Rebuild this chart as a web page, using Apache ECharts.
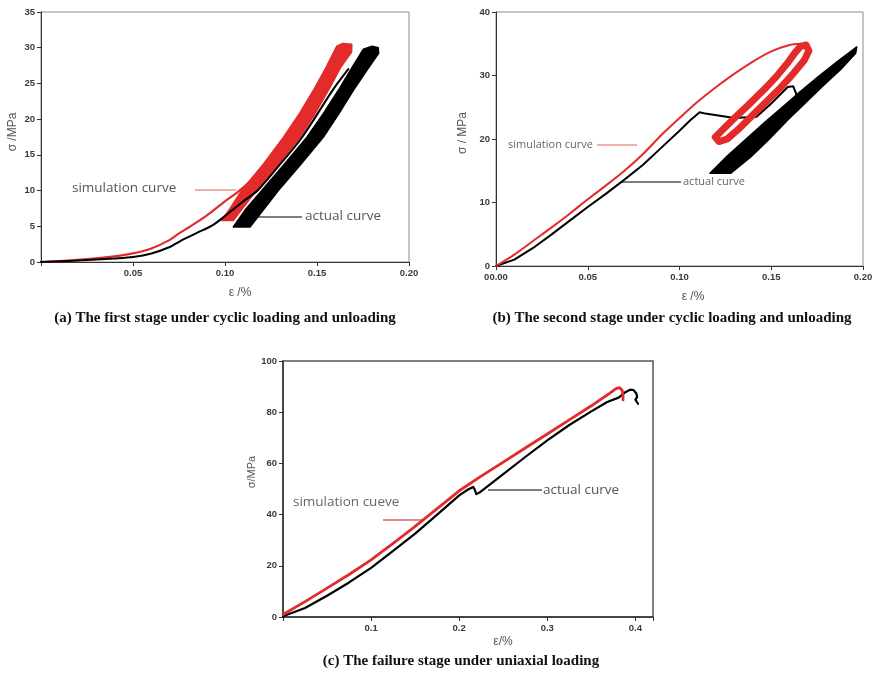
<!DOCTYPE html>
<html><head><meta charset="utf-8">
<script src="https://cdn.jsdelivr.net/npm/echarts@6/dist/echarts.min.js"></script>
<style>html,body{margin:0;padding:0;background:#fff}#c{width:878px;height:673px}</style>
</head><body><div id="c"></div><script>
// ---------- data (strain %, stress MPa) ----------
// (a) first stage
const aSimCurve = [[0,0],[0.02,0.3],[0.04,0.8],[0.05,1.2],[0.06,1.9],[0.07,3.1],[0.075,4.0],[0.08,4.8],[0.09,6.5],[0.1,8.5],[0.106,9.6],[0.112,10.9],[0.12,12.9],[0.128,15.0],[0.136,17.4]];
const aActCurve = [[0,0],[0.02,0.2],[0.04,0.5],[0.05,0.7],[0.06,1.2],[0.07,2.1],[0.0755,2.9],[0.085,4.1],[0.0936,5.2],[0.1027,7.0],[0.11,8.5],[0.1177,10.0],[0.13,13.7],[0.1417,17.4],[0.1589,24.2],[0.167,27.0]];
const aSimBand = [[0.0982,5.8],[0.103,7.6],[0.109,10.0],[0.1205,13.6],[0.1317,17.45],[0.1405,20.8],[0.1489,24.4],[0.155,27.3],[0.1607,30.2],[0.164,30.6],[0.1689,30.5],[0.1688,29.4],[0.163,27.3],[0.157,24.4],[0.149,20.8],[0.1408,17.45],[0.129,13.6],[0.117,10.0],[0.1045,5.8]];
const aActBand = [[0.1045,4.9],[0.111,7.3],[0.120,10.0],[0.132,13.6],[0.1444,17.45],[0.1535,20.8],[0.1625,24.4],[0.169,27.2],[0.1752,29.8],[0.180,30.2],[0.1833,30.0],[0.1835,29.2],[0.177,26.8],[0.1707,24.4],[0.162,20.8],[0.1534,17.45],[0.141,13.6],[0.129,10.0],[0.1136,4.9]];
// (b) second stage
const bSimCurve = [[0,0],[0.01,1.8],[0.02,3.9],[0.03,6.0],[0.04,8.2],[0.05,10.5],[0.06,12.7],[0.07,15.0],[0.08,17.6],[0.09,20.6],[0.1,23.3],[0.11,25.9],[0.12,28.2],[0.13,30.3],[0.14,32.2],[0.15,33.8],[0.16,34.8],[0.166,35.0]];
const bActCurve = [[0,0],[0.01,1.0],[0.02,2.8],[0.03,4.9],[0.04,7.1],[0.05,9.3],[0.06,11.4],[0.07,13.6],[0.08,15.9],[0.09,18.6],[0.1,21.3],[0.106,23.0],[0.111,24.2],[0.114,24.0],[0.13,23.3],[0.142,23.5],[0.150,25.6],[0.159,28.2],[0.162,28.3],[0.1635,27.2],[0.164,26.5]];
const bSimLoop = [[0.1195,20.3],[0.125,21.9],[0.131,23.6],[0.138,25.5],[0.1465,27.9],[0.153,29.9],[0.159,32.0],[0.163,33.6],[0.166,34.6],[0.169,34.8],[0.1705,33.9],[0.168,32.4],[0.162,30.3],[0.1545,27.9],[0.147,25.8],[0.139,23.5],[0.132,21.5],[0.126,20.0],[0.1215,19.6],[0.1195,20.3]];
const bActBand = [[0.1166,14.6],[0.126,17.3],[0.136,19.9],[0.146,22.5],[0.156,25.0],[0.166,27.5],[0.176,29.9],[0.186,32.2],[0.1966,34.5],[0.196,33.5],[0.188,31.0],[0.178,28.3],[0.169,25.8],[0.159,23.0],[0.149,20.0],[0.139,17.2],[0.128,14.6]];
// (c) failure stage
const cSimCurve = [[0,1],[0.025,6],[0.05,11.3],[0.075,16.6],[0.1,22.3],[0.125,28.8],[0.15,35.4],[0.175,42.3],[0.2,49.3],[0.225,55],[0.25,60.5],[0.275,66],[0.3,71.5],[0.325,77],[0.35,82.5],[0.37,87.2],[0.378,89.2],[0.382,89.6],[0.385,88.6],[0.386,86.5],[0.386,84.8]];
const cActCurve = [[0,0.3],[0.025,3.5],[0.05,8.3],[0.075,13.5],[0.1,19.2],[0.125,25.8],[0.15,32.6],[0.175,40.0],[0.2,47.5],[0.21,49.8],[0.216,50.8],[0.218,49.5],[0.2195,48.0],[0.223,48.6],[0.25,55.8],[0.275,62.5],[0.3,69.0],[0.325,75.0],[0.35,80.3],[0.368,84.0],[0.381,85.7],[0.389,87.9],[0.394,88.8],[0.398,88.6],[0.401,87.4],[0.402,85.9],[0.400,84.9],[0.403,83.3]];
// axes
const xMaxes = [0.2, 0.2, 0.42];
const xSteps = [0.05, 0.05, 0.1];
const yMaxes = [35, 40, 100];
const ySteps = [5, 10, 20];
const captions = ['(a) The first stage under cyclic loading and unloading','(b) The second stage under cyclic loading and unloading','(c) The failure stage under uniaxial loading'];

// ---------- chart ----------
const RED = '#e32b2b';
const chart = echarts.init(document.getElementById('c'), null, {renderer:'canvas'});
const grids = [
  {left:41, top:12, width:368, height:250},
  {left:496, top:12, width:367, height:254},
  {left:283, top:361, width:370, height:256}
].map((g,i)=>Object.assign(g,{show:true, borderColor: i===2?'#555':'#8c8c8c', borderWidth: i===2?1.5:1, backgroundColor:'transparent'}));

const xFmt = [
  v => Math.abs(v) < 1e-9 ? '' : v.toFixed(2),
  v => Math.abs(v) < 1e-9 ? '00.00' : v.toFixed(2),
  v => (Math.abs(v) < 1e-9 || v > 0.405) ? '' : v.toFixed(1)
];
const axisCol = '#333';
const lblStyle = {fontSize:9.5, fontWeight:'bold', color:'#3a3a3a', fontFamily:'Liberation Sans, Arial'};
const xAxes = [0,1,2].map(i => ({
  type:'value', gridIndex:i, min:0, max:xMaxes[i], interval:xSteps[i],
  axisLine:{show:true, onZero:false, lineStyle:{color:axisCol, width: i===2?1.5:1}},
  axisTick:{show:true, length:4, lineStyle:{color:axisCol}},
  splitLine:{show:false},
  axisLabel:Object.assign({margin:6, formatter:xFmt[i], showMaxLabel:true}, lblStyle)
}));
const yAxes = [0,1,2].map(i => ({
  type:'value', gridIndex:i, min:0, max:yMaxes[i], interval:ySteps[i],
  axisLine:{show:true, onZero:false, lineStyle:{color:axisCol, width: i===2?1.5:1}},
  axisTick:{show:true, length:4, lineStyle:{color:axisCol}},
  splitLine:{show:false},
  axisLabel:Object.assign({margin:6}, lblStyle)
}));

function lineS(idx, data, color, w, extra) {
  return Object.assign({type:'line', xAxisIndex:idx, yAxisIndex:idx, data:data, showSymbol:false, symbol:'none',
    smooth:false, lineStyle:{color:color, width:w, join:'round', cap:'round'}, silent:true, animation:false}, extra||{});
}
function polyS(idx, data, color) {
  return {type:'custom', xAxisIndex:idx, yAxisIndex:idx, data:data, encode:{x:0,y:1}, silent:true, animation:false,
    renderItem:function(params, api){
      if (params.dataIndex !== 0) return null;
      const pts = data.map(p => api.coord(p));
      return {type:'polygon', shape:{points:pts}, style:{fill:color, stroke:color, lineWidth:1.5, lineJoin:'round'}};
    }};
}

const series = [
  lineS(0, aSimCurve, RED, 2.2, {smooth:0.3}),
  lineS(0, aActCurve, '#000', 2, {smooth:0.3}),
  polyS(0, aSimBand, RED),
  polyS(0, aActBand, '#000'),
  lineS(1, bActCurve, '#000', 2),
  lineS(1, bSimCurve, RED, 2, {smooth:0.3}),
  lineS(1, bSimLoop, RED, 7),
  polyS(1, bActBand, '#000'),
  lineS(2, cActCurve, '#000', 2.2),
  lineS(2, cSimCurve, RED, 2.8)
];

function T(x, y, s, font, fill, align, rot) {
  return {type:'text', x:x, y:y, rotation: rot||0, silent:true,
    style:{text:s, font:font, fill:fill, textAlign:align||'left', align:align||'left', textVerticalAlign:'middle', verticalAlign:'middle'}};
}
function L(x1,y1,x2,y2,color,w) {
  return {type:'line', silent:true, shape:{x1:x1,y1:y1,x2:x2,y2:y2}, style:{stroke:color, lineWidth:w||1.2}};
}
const annFont = '13.5px "Open Sans", sans-serif';
const annFontS = '11px "Open Sans", sans-serif';
const capFont = 'bold 15px "Liberation Serif", "Times New Roman", serif';
const titFont = '12px "Liberation Sans", Arial, sans-serif';
const titFontS = '11px "Liberation Sans", Arial, sans-serif';
const graphic = [
  // (a)
  T(72, 188, 'simulation curve', annFont, '#555'),
  L(195, 190, 236, 190, '#e06060', 1.2),
  L(258, 217, 302, 217, '#555', 1.5),
  T(305, 216, 'actual curve', annFont, '#555'),
  T(13, 132, 'σ /MPa', titFont, '#555', 'center', Math.PI/2),
  T(240, 293, 'ε /%', titFont, '#555', 'center'),
  T(225, 318, captions[0], capFont, '#111', 'center'),
  // (b)
  T(508, 145, 'simulation curve', annFontS, '#666'),
  L(597, 145, 637, 145, '#e06060', 1.2),
  L(622, 182, 681, 182, '#555', 1.3),
  T(683, 182, 'actual curve', annFontS, '#666'),
  T(463, 133, 'σ / MPa', titFont, '#555', 'center', Math.PI/2),
  T(693, 297, 'ε /%', titFont, '#555', 'center'),
  T(672, 318, captions[1], capFont, '#111', 'center'),
  // (c)
  T(293, 502, 'simulation cueve', annFont, '#666'),
  L(383, 520, 422, 520, '#e06060', 1.3),
  L(488, 490, 542, 490, '#555', 1.5),
  T(543, 490, 'actual curve', annFont, '#555'),
  T(252, 472, 'σ/MPa', titFontS, '#555', 'center', Math.PI/2),
  T(503, 642, 'ε/%', titFont, '#555', 'center'),
  T(461, 661, captions[2], capFont, '#111', 'center')
];

chart.setOption({
  animation:false,
  backgroundColor:'#fff',
  grid:grids, xAxis:xAxes, yAxis:yAxes, series:series, graphic:graphic
});
</script></body></html>
